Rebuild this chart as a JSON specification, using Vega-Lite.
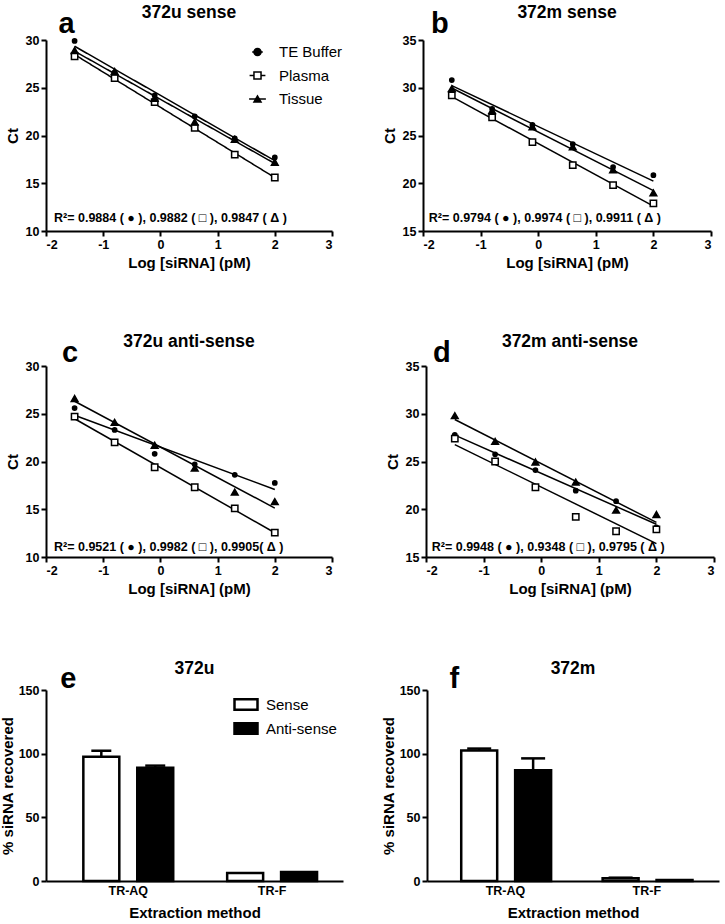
{
  "$schema": "https://vega.github.io/schema/vega-lite/v6.json",
  "background": "white",
  "padding": {"left": 0, "top": 4, "right": 4, "bottom": 0},
  "resolve": {"scale": {"fill": "independent", "shape": "independent", "size": "independent", "stroke": "independent", "strokeDash": "independent"}, "legend": {"fill": "independent", "shape": "independent", "stroke": "independent", "strokeDash": "independent"}},
  "config": {
    "font": "Liberation Sans",
    "view": {"stroke": null},
    "axis": {"domainColor": "black", "domainWidth": 2, "tickColor": "black", "tickWidth": 2, "tickSize": 5, "labelFont": "Liberation Sans", "labelFontWeight": "bold", "labelFontSize": 12.5, "labelColor": "black", "labelPadding": 2, "titleFont": "Liberation Sans", "titleFontWeight": "bold", "titleFontSize": 15, "titleColor": "black", "grid": false},
    "axisY": {"titlePadding": 5},
    "axisX": {"titlePadding": 5},
    "title": {"font": "Liberation Sans", "fontSize": 17.5, "fontWeight": "bold", "color": "black", "anchor": "middle", "frame": "group", "offset": -12},
    "legend": {"labelFont": "Liberation Sans", "labelColor": "black", "labelFontSize": 15, "padding": 0}
  },
  "datasets": {
    "curves": [
      {"panel": "a", "series": "TE Buffer", "logc": -1.5, "ct": 29.9},
      {"panel": "a", "series": "TE Buffer", "logc": -0.8, "ct": 26.6},
      {"panel": "a", "series": "TE Buffer", "logc": -0.1, "ct": 24.2},
      {"panel": "a", "series": "TE Buffer", "logc": 0.6, "ct": 22.0},
      {"panel": "a", "series": "TE Buffer", "logc": 1.3, "ct": 19.7},
      {"panel": "a", "series": "TE Buffer", "logc": 2.0, "ct": 17.7},
      {"panel": "a", "series": "Plasma", "logc": -1.5, "ct": 28.3},
      {"panel": "a", "series": "Plasma", "logc": -0.8, "ct": 26.0},
      {"panel": "a", "series": "Plasma", "logc": -0.1, "ct": 23.5},
      {"panel": "a", "series": "Plasma", "logc": 0.6, "ct": 20.8},
      {"panel": "a", "series": "Plasma", "logc": 1.3, "ct": 18.0},
      {"panel": "a", "series": "Plasma", "logc": 2.0, "ct": 15.6},
      {"panel": "a", "series": "Tissue", "logc": -1.5, "ct": 28.9},
      {"panel": "a", "series": "Tissue", "logc": -0.8, "ct": 26.7},
      {"panel": "a", "series": "Tissue", "logc": -0.1, "ct": 23.9},
      {"panel": "a", "series": "Tissue", "logc": 0.6, "ct": 21.4},
      {"panel": "a", "series": "Tissue", "logc": 1.3, "ct": 19.6},
      {"panel": "a", "series": "Tissue", "logc": 2.0, "ct": 17.2},
      {"panel": "b", "series": "TE Buffer", "logc": -1.5, "ct": 30.8},
      {"panel": "b", "series": "TE Buffer", "logc": -0.8, "ct": 27.8},
      {"panel": "b", "series": "TE Buffer", "logc": -0.1, "ct": 26.1},
      {"panel": "b", "series": "TE Buffer", "logc": 0.6, "ct": 24.1},
      {"panel": "b", "series": "TE Buffer", "logc": 1.3, "ct": 21.7},
      {"panel": "b", "series": "TE Buffer", "logc": 2.0, "ct": 20.85},
      {"panel": "b", "series": "Plasma", "logc": -1.5, "ct": 29.2},
      {"panel": "b", "series": "Plasma", "logc": -0.8, "ct": 26.9},
      {"panel": "b", "series": "Plasma", "logc": -0.1, "ct": 24.3},
      {"panel": "b", "series": "Plasma", "logc": 0.6, "ct": 21.9},
      {"panel": "b", "series": "Plasma", "logc": 1.3, "ct": 19.8},
      {"panel": "b", "series": "Plasma", "logc": 2.0, "ct": 17.9},
      {"panel": "b", "series": "Tissue", "logc": -1.5, "ct": 29.9},
      {"panel": "b", "series": "Tissue", "logc": -0.8, "ct": 27.6},
      {"panel": "b", "series": "Tissue", "logc": -0.1, "ct": 25.9},
      {"panel": "b", "series": "Tissue", "logc": 0.6, "ct": 23.8},
      {"panel": "b", "series": "Tissue", "logc": 1.3, "ct": 21.4},
      {"panel": "b", "series": "Tissue", "logc": 2.0, "ct": 19.0},
      {"panel": "c", "series": "TE Buffer", "logc": -1.5, "ct": 25.6},
      {"panel": "c", "series": "TE Buffer", "logc": -0.8, "ct": 23.3},
      {"panel": "c", "series": "TE Buffer", "logc": -0.1, "ct": 20.8},
      {"panel": "c", "series": "TE Buffer", "logc": 0.6, "ct": 19.7},
      {"panel": "c", "series": "TE Buffer", "logc": 1.3, "ct": 18.6},
      {"panel": "c", "series": "TE Buffer", "logc": 2.0, "ct": 17.75},
      {"panel": "c", "series": "Plasma", "logc": -1.5, "ct": 24.7},
      {"panel": "c", "series": "Plasma", "logc": -0.8, "ct": 22.0},
      {"panel": "c", "series": "Plasma", "logc": -0.1, "ct": 19.4},
      {"panel": "c", "series": "Plasma", "logc": 0.6, "ct": 17.3},
      {"panel": "c", "series": "Plasma", "logc": 1.3, "ct": 15.1},
      {"panel": "c", "series": "Plasma", "logc": 2.0, "ct": 12.55},
      {"panel": "c", "series": "Tissue", "logc": -1.5, "ct": 26.6},
      {"panel": "c", "series": "Tissue", "logc": -0.8, "ct": 24.1},
      {"panel": "c", "series": "Tissue", "logc": -0.1, "ct": 21.7},
      {"panel": "c", "series": "Tissue", "logc": 0.6, "ct": 19.3},
      {"panel": "c", "series": "Tissue", "logc": 1.3, "ct": 16.8},
      {"panel": "c", "series": "Tissue", "logc": 2.0, "ct": 15.8},
      {"panel": "d", "series": "TE Buffer", "logc": -1.5, "ct": 27.8},
      {"panel": "d", "series": "TE Buffer", "logc": -0.8, "ct": 25.75},
      {"panel": "d", "series": "TE Buffer", "logc": -0.1, "ct": 24.1},
      {"panel": "d", "series": "TE Buffer", "logc": 0.6, "ct": 21.95},
      {"panel": "d", "series": "TE Buffer", "logc": 1.3, "ct": 20.85},
      {"panel": "d", "series": "TE Buffer", "logc": 2.0, "ct": 18.1},
      {"panel": "d", "series": "Plasma", "logc": -1.5, "ct": 27.4},
      {"panel": "d", "series": "Plasma", "logc": -0.8, "ct": 25.0},
      {"panel": "d", "series": "Plasma", "logc": -0.1, "ct": 22.3},
      {"panel": "d", "series": "Plasma", "logc": 0.6, "ct": 19.2},
      {"panel": "d", "series": "Plasma", "logc": 1.3, "ct": 17.7},
      {"panel": "d", "series": "Plasma", "logc": 2.0, "ct": 17.9},
      {"panel": "d", "series": "Tissue", "logc": -1.5, "ct": 29.8},
      {"panel": "d", "series": "Tissue", "logc": -0.8, "ct": 27.1},
      {"panel": "d", "series": "Tissue", "logc": -0.1, "ct": 24.95},
      {"panel": "d", "series": "Tissue", "logc": 0.6, "ct": 22.85},
      {"panel": "d", "series": "Tissue", "logc": 1.3, "ct": 19.9},
      {"panel": "d", "series": "Tissue", "logc": 2.0, "ct": 19.45}
    ],
    "bars": [
      {"panel": "e", "method": "TR-AQ", "strand": "Sense", "value": 97.5, "upper": 102.3},
      {"panel": "e", "method": "TR-AQ", "strand": "Anti-sense", "value": 89.0, "upper": 90.6},
      {"panel": "e", "method": "TR-F", "strand": "Sense", "value": 6.2, "upper": null},
      {"panel": "e", "method": "TR-F", "strand": "Anti-sense", "value": 7.0, "upper": null},
      {"panel": "f", "method": "TR-AQ", "strand": "Sense", "value": 102.5, "upper": 104.0},
      {"panel": "f", "method": "TR-AQ", "strand": "Anti-sense", "value": 86.9, "upper": 96.3},
      {"panel": "f", "method": "TR-F", "strand": "Sense", "value": 2.1, "upper": 2.6},
      {"panel": "f", "method": "TR-F", "strand": "Anti-sense", "value": 0.8, "upper": null}
    ]
  },
  "spacing": 62,
  "vconcat": [
    {
      "spacing": 39,
      "resolve": {"scale": {"fill": "independent", "shape": "independent", "size": "independent", "stroke": "independent", "strokeDash": "independent"}, "legend": {"fill": "independent", "shape": "independent", "stroke": "independent", "strokeDash": "independent"}},
      "hconcat": [
        {
          "width": 286, "height": 191,
          "title": {"text": "372u sense"},
          "layer": [
            {
              "data": {"name": "curves"},
              "transform": [{"filter": "datum.panel === 'a'"}, {"regression": "ct", "on": "logc", "groupby": ["series"], "extent": [-1.5, 2]}],
              "mark": {"type": "line", "color": "black", "strokeWidth": 1.5},
              "encoding": {
                "x": {"field": "logc", "type": "quantitative", "scale": {"domain": [-2, 3], "nice": false}, "axis": {"values": [-2, -1, 0, 1, 2, 3], "labelExpr": "'' + datum.value", "title": "Log [siRNA] (pM)"}},
                "y": {"field": "ct", "type": "quantitative", "scale": {"domain": [10, 30], "nice": false, "zero": false}, "axis": {"values": [10, 15, 20, 25, 30], "title": "Ct"}},
                "detail": {"field": "series"},
                "strokeDash": {"field": "series", "type": "nominal", "title": null, "scale": {"domain": ["Plasma", "TE Buffer", "Tissue"], "range": [[1, 0], [1, 0], [1, 0]]},
                  "legend": {"orient": "none", "legendX": 196, "legendY": 4.5, "title": null, "values": ["TE Buffer", "Plasma", "Tissue"], "symbolType": "M-2.5,0H2.5", "symbolSize": 100, "symbolStrokeWidth": 1.5, "symbolStrokeColor": "black", "symbolFillColor": "transparent", "symbolOffset": 8, "labelOffset": 14, "rowPadding": 7.5, "labelOpacity": 0}}
              }
            },
            {
              "data": {"name": "curves"},
              "transform": [{"filter": "datum.panel === 'a'"}],
              "mark": {"type": "point", "stroke": "black", "strokeWidth": 1.5, "opacity": 1},
              "encoding": {
                "x": {"field": "logc", "type": "quantitative"},
                "y": {"field": "ct", "type": "quantitative"},
                "shape": {"field": "series", "type": "nominal", "title": null, "scale": {"domain": ["TE Buffer", "Plasma", "Tissue"], "range": ["circle", "square", "triangle-up"]},
                  "legend": {"orient": "none", "legendX": 196, "legendY": 4.5, "title": null, "symbolSize": 50, "symbolStrokeWidth": 1.5, "symbolStrokeColor": "black", "symbolOffset": 8, "labelOffset": 14, "rowPadding": 7.5}},
                "fill": {"field": "series", "type": "nominal", "title": null, "scale": {"domain": ["TE Buffer", "Plasma", "Tissue"], "range": ["black", "white", "black"]},
                  "legend": {"orient": "none", "legendX": 196, "legendY": 4.5, "title": null, "symbolSize": 50, "symbolStrokeWidth": 1.5, "symbolStrokeColor": "black", "symbolOffset": 8, "labelOffset": 14, "rowPadding": 7.5}},
                "stroke": {"field": "series", "type": "nominal", "title": null, "scale": {"domain": ["TE Buffer", "Plasma", "Tissue"], "range": ["black", "black", "black"]},
                  "legend": {"orient": "none", "legendX": 196, "legendY": 4.5, "title": null, "symbolSize": 50, "symbolStrokeWidth": 1.5, "symbolStrokeColor": "black", "symbolOffset": 8, "labelOffset": 14, "rowPadding": 7.5}},
                "size": {"field": "series", "type": "nominal", "scale": {"type": "ordinal", "domain": ["Plasma", "TE Buffer", "Tissue"], "range": [40, 18, 45]}, "legend": null}
              }
            },
            {
              "data": {"values": [{}]},
              "mark": {"type": "text", "align": "left", "baseline": "middle", "fontSize": 12.5, "fontWeight": "bold", "color": "black"},
              "encoding": {"x": {"datum": -1.86}, "y": {"datum": 11.36}, "text": {"value": "R²= 0.9884 ( ● ),  0.9882 ( □ ),  0.9847 ( Δ )"}}
            },
            {
              "data": {"values": [{}]},
              "mark": {"type": "text", "align": "left", "baseline": "alphabetic", "fontSize": 29, "fontWeight": "bold", "color": "black"},
              "encoding": {"x": {"datum": -1.78}, "y": {"datum": 30.75}, "text": {"value": "a"}}
            }
          ]
        },
        {
          "width": 288, "height": 191,
          "title": {"text": "372m sense"},
          "layer": [
            {
              "data": {"name": "curves"},
              "transform": [{"filter": "datum.panel === 'b'"}, {"regression": "ct", "on": "logc", "groupby": ["series"], "extent": [-1.5, 2]}],
              "mark": {"type": "line", "color": "black", "strokeWidth": 1.5},
              "encoding": {
                "x": {"field": "logc", "type": "quantitative", "scale": {"domain": [-2, 3], "nice": false}, "axis": {"values": [-2, -1, 0, 1, 2, 3], "labelExpr": "'' + datum.value", "title": "Log [siRNA] (pM)"}},
                "y": {"field": "ct", "type": "quantitative", "scale": {"domain": [15, 35], "nice": false, "zero": false}, "axis": {"values": [15, 20, 25, 30, 35], "title": "Ct"}},
                "detail": {"field": "series"}
              }
            },
            {
              "data": {"name": "curves"},
              "transform": [{"filter": "datum.panel === 'b'"}],
              "mark": {"type": "point", "stroke": "black", "strokeWidth": 1.5, "opacity": 1},
              "encoding": {
                "x": {"field": "logc", "type": "quantitative"},
                "y": {"field": "ct", "type": "quantitative"},
                "shape": {"field": "series", "type": "nominal", "scale": {"domain": ["TE Buffer", "Plasma", "Tissue"], "range": ["circle", "square", "triangle-up"]}, "legend": null},
                "fill": {"field": "series", "type": "nominal", "scale": {"domain": ["TE Buffer", "Plasma", "Tissue"], "range": ["black", "white", "black"]}, "legend": null},
                "size": {"field": "series", "type": "nominal", "scale": {"type": "ordinal", "domain": ["Plasma", "TE Buffer", "Tissue"], "range": [40, 18, 45]}, "legend": null}
              }
            },
            {
              "data": {"values": [{}]},
              "mark": {"type": "text", "align": "left", "baseline": "middle", "fontSize": 12.5, "fontWeight": "bold", "color": "black"},
              "encoding": {"x": {"datum": -1.9}, "y": {"datum": 16.36}, "text": {"value": "R²= 0.9794 ( ● ),  0.9974 ( □ ),  0.9911 ( Δ )"}}
            },
            {
              "data": {"values": [{}]},
              "mark": {"type": "text", "align": "left", "baseline": "alphabetic", "fontSize": 29, "fontWeight": "bold", "color": "black"},
              "encoding": {"x": {"datum": -1.86}, "y": {"datum": 35.75}, "text": {"value": "b"}}
            }
          ]
        }
      ]
    },
    {
      "spacing": 52,
      "resolve": {"scale": {"fill": "independent", "shape": "independent", "size": "independent"}, "legend": {"fill": "independent", "shape": "independent"}},
      "hconcat": [
        {
          "width": 286, "height": 191,
          "title": {"text": "372u anti-sense"},
          "layer": [
            {
              "data": {"name": "curves"},
              "transform": [{"filter": "datum.panel === 'c'"}, {"regression": "ct", "on": "logc", "groupby": ["series"], "extent": [-1.5, 2]}],
              "mark": {"type": "line", "color": "black", "strokeWidth": 1.5},
              "encoding": {
                "x": {"field": "logc", "type": "quantitative", "scale": {"domain": [-2, 3], "nice": false}, "axis": {"values": [-2, -1, 0, 1, 2, 3], "labelExpr": "'' + datum.value", "title": "Log [siRNA] (pM)"}},
                "y": {"field": "ct", "type": "quantitative", "scale": {"domain": [10, 30], "nice": false, "zero": false}, "axis": {"values": [10, 15, 20, 25, 30], "title": "Ct"}},
                "detail": {"field": "series"}
              }
            },
            {
              "data": {"name": "curves"},
              "transform": [{"filter": "datum.panel === 'c'"}],
              "mark": {"type": "point", "stroke": "black", "strokeWidth": 1.5, "opacity": 1},
              "encoding": {
                "x": {"field": "logc", "type": "quantitative"},
                "y": {"field": "ct", "type": "quantitative"},
                "shape": {"field": "series", "type": "nominal", "scale": {"domain": ["TE Buffer", "Plasma", "Tissue"], "range": ["circle", "square", "triangle-up"]}, "legend": null},
                "fill": {"field": "series", "type": "nominal", "scale": {"domain": ["TE Buffer", "Plasma", "Tissue"], "range": ["black", "white", "black"]}, "legend": null},
                "size": {"field": "series", "type": "nominal", "scale": {"type": "ordinal", "domain": ["Plasma", "TE Buffer", "Tissue"], "range": [40, 18, 45]}, "legend": null}
              }
            },
            {
              "data": {"values": [{}]},
              "mark": {"type": "text", "align": "left", "baseline": "middle", "fontSize": 12.5, "fontWeight": "bold", "color": "black"},
              "encoding": {"x": {"datum": -1.86}, "y": {"datum": 11.05}, "text": {"value": "R²= 0.9521 ( ● ),  0.9982 ( □ ),  0.9905( Δ )"}}
            },
            {
              "data": {"values": [{}]},
              "mark": {"type": "text", "align": "left", "baseline": "alphabetic", "fontSize": 29, "fontWeight": "bold", "color": "black"},
              "encoding": {"x": {"datum": -1.72}, "y": {"datum": 30.42}, "text": {"value": "c"}}
            }
          ]
        },
        {
          "width": 288, "height": 191,
          "title": {"text": "372m anti-sense"},
          "layer": [
            {
              "data": {"name": "curves"},
              "transform": [{"filter": "datum.panel === 'd'"}, {"regression": "ct", "on": "logc", "groupby": ["series"], "extent": [-1.5, 2]}],
              "mark": {"type": "line", "color": "black", "strokeWidth": 1.5},
              "encoding": {
                "x": {"field": "logc", "type": "quantitative", "scale": {"domain": [-2, 3], "nice": false}, "axis": {"values": [-2, -1, 0, 1, 2, 3], "labelExpr": "'' + datum.value", "title": "Log [siRNA] (pM)"}},
                "y": {"field": "ct", "type": "quantitative", "scale": {"domain": [15, 35], "nice": false, "zero": false}, "axis": {"values": [15, 20, 25, 30, 35], "title": "Ct"}},
                "detail": {"field": "series"}
              }
            },
            {
              "data": {"name": "curves"},
              "transform": [{"filter": "datum.panel === 'd'"}],
              "mark": {"type": "point", "stroke": "black", "strokeWidth": 1.5, "opacity": 1},
              "encoding": {
                "x": {"field": "logc", "type": "quantitative"},
                "y": {"field": "ct", "type": "quantitative"},
                "shape": {"field": "series", "type": "nominal", "scale": {"domain": ["TE Buffer", "Plasma", "Tissue"], "range": ["circle", "square", "triangle-up"]}, "legend": null},
                "fill": {"field": "series", "type": "nominal", "scale": {"domain": ["TE Buffer", "Plasma", "Tissue"], "range": ["black", "white", "black"]}, "legend": null},
                "size": {"field": "series", "type": "nominal", "scale": {"type": "ordinal", "domain": ["Plasma", "TE Buffer", "Tissue"], "range": [40, 18, 45]}, "legend": null}
              }
            },
            {
              "data": {"values": [{}]},
              "mark": {"type": "text", "align": "left", "baseline": "middle", "fontSize": 12.5, "fontWeight": "bold", "color": "black"},
              "encoding": {"x": {"datum": -1.9}, "y": {"datum": 16.05}, "text": {"value": "R²= 0.9948 ( ● ),  0.9348 ( □ ),  0.9795 ( Δ )"}}
            },
            {
              "data": {"values": [{}]},
              "mark": {"type": "text", "align": "left", "baseline": "alphabetic", "fontSize": 29, "fontWeight": "bold", "color": "black"},
              "encoding": {"x": {"datum": -1.88}, "y": {"datum": 35.42}, "text": {"value": "d"}}
            }
          ]
        }
      ]
    },
    {
      "spacing": 38,
      "resolve": {"scale": {"fill": "independent"}, "legend": {"fill": "independent"}},
      "hconcat": [
        {
          "width": 297, "height": 191,
          "title": {"text": "372u"},
          "layer": [
            {
              "data": {"name": "bars"},
              "transform": [{"filter": "datum.panel === 'e'"}],
              "mark": {"type": "bar", "stroke": "black", "strokeWidth": 2.5},
              "encoding": {
                "x": {"field": "method", "type": "nominal", "scale": {"domain": ["TR-AQ", "TR-F"], "paddingInner": 0.375, "paddingOuter": 0.22, "align": 0.59}, "axis": {"title": "Extraction method", "labelAngle": 0, "ticks": false, "labelPadding": 3, "titlePadding": 9}},
                "xOffset": {"field": "strand", "type": "nominal", "scale": {"domain": ["Sense", "Anti-sense"], "paddingInner": 0.333, "paddingOuter": 0}},
                "y": {"field": "value", "type": "quantitative", "scale": {"domain": [0, 150], "nice": false}, "axis": {"values": [0, 50, 100, 150], "title": "% siRNA recovered", "titlePadding": 3}},
                "fill": {"field": "strand", "type": "nominal", "scale": {"domain": ["Sense", "Anti-sense"], "range": ["white", "black"]},
                  "legend": {"orient": "none", "legendX": 187, "legendY": 1.5, "title": null, "symbolType": "M-1,-0.45H1V0.45H-1Z", "symbolSize": 529, "symbolStrokeWidth": 2.5, "symbolStrokeColor": "black", "labelOffset": 7, "rowPadding": 0}}
              }
            },
            {
              "data": {"name": "bars"},
              "transform": [{"filter": "datum.panel === 'e' && datum.upper != null"}],
              "mark": {"type": "rule", "color": "black", "strokeWidth": 2.5},
              "encoding": {
                "x": {"field": "method", "type": "nominal"},
                "xOffset": {"field": "strand", "type": "nominal"},
                "y": {"field": "value", "type": "quantitative"},
                "y2": {"field": "upper"}
              }
            },
            {
              "data": {"name": "bars"},
              "transform": [{"filter": "datum.panel === 'e' && datum.upper != null"}],
              "mark": {"type": "tick", "color": "black", "thickness": 2.5, "size": 20, "opacity": 1},
              "encoding": {
                "x": {"field": "method", "type": "nominal"},
                "xOffset": {"field": "strand", "type": "nominal"},
                "y": {"field": "upper", "type": "quantitative"}
              }
            },
            {
              "data": {"values": [{}]},
              "mark": {"type": "text", "align": "right", "baseline": "alphabetic", "fontSize": 29, "fontWeight": "bold", "color": "black", "dx": -7},
              "encoding": {"x": {"datum": "TR-AQ", "bandPosition": 0}, "y": {"datum": 151.5}, "text": {"value": "e"}}
            }
          ]
        },
        {
          "width": 292, "height": 191,
          "title": {"text": "372m"},
          "layer": [
            {
              "data": {"name": "bars"},
              "transform": [{"filter": "datum.panel === 'f'"}],
              "mark": {"type": "bar", "stroke": "black", "strokeWidth": 2.5},
              "encoding": {
                "x": {"field": "method", "type": "nominal", "scale": {"domain": ["TR-AQ", "TR-F"], "paddingInner": 0.375, "paddingOuter": 0.22, "align": 0.55}, "axis": {"title": "Extraction method", "labelAngle": 0, "ticks": false, "labelPadding": 3, "titlePadding": 9}},
                "xOffset": {"field": "strand", "type": "nominal", "scale": {"domain": ["Sense", "Anti-sense"], "paddingInner": 0.333, "paddingOuter": 0}},
                "y": {"field": "value", "type": "quantitative", "scale": {"domain": [0, 150], "nice": false}, "axis": {"values": [0, 50, 100, 150], "title": "% siRNA recovered", "titlePadding": 3}},
                "fill": {"field": "strand", "type": "nominal", "scale": {"domain": ["Sense", "Anti-sense"], "range": ["white", "black"]}, "legend": null}
              }
            },
            {
              "data": {"name": "bars"},
              "transform": [{"filter": "datum.panel === 'f' && datum.upper != null"}],
              "mark": {"type": "rule", "color": "black", "strokeWidth": 2.5},
              "encoding": {
                "x": {"field": "method", "type": "nominal"},
                "xOffset": {"field": "strand", "type": "nominal"},
                "y": {"field": "value", "type": "quantitative"},
                "y2": {"field": "upper"}
              }
            },
            {
              "data": {"name": "bars"},
              "transform": [{"filter": "datum.panel === 'f' && datum.upper != null"}],
              "mark": {"type": "tick", "color": "black", "thickness": 2.5, "size": 24, "opacity": 1},
              "encoding": {
                "x": {"field": "method", "type": "nominal"},
                "xOffset": {"field": "strand", "type": "nominal"},
                "y": {"field": "upper", "type": "quantitative"}
              }
            },
            {
              "data": {"values": [{}]},
              "mark": {"type": "text", "align": "right", "baseline": "alphabetic", "fontSize": 29, "fontWeight": "bold", "color": "black", "dx": -2},
              "encoding": {"x": {"datum": "TR-AQ", "bandPosition": 0}, "y": {"datum": 151.5}, "text": {"value": "f"}}
            }
          ]
        }
      ]
    }
  ]
}
